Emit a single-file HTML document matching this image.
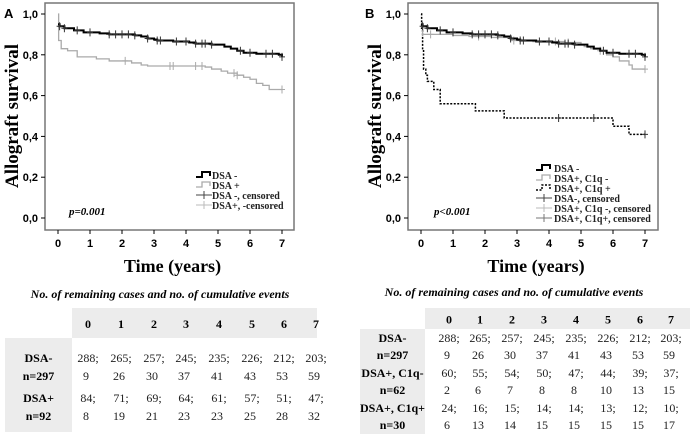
<!DOCTYPE html>
<html><head><meta charset="utf-8"><style>
body{margin:0;background:#fff;width:690px;height:434px;overflow:hidden;font-family:"Liberation Serif",serif}
svg{position:absolute;left:0;top:0}
</style></head><body>
<svg id="s" width="690" height="434"></svg>
<script>
const tA_neg=[0,0.05,0.2,0.5,0.8,1.3,1.6,2.4,2.6,2.8,3.0,3.1,3.6,4.1,4.3,4.8,5.2,5.4,5.6,5.8,6.2,6.9,7.0];
const sA_neg=[0.95,0.94,0.93,0.92,0.91,0.905,0.90,0.895,0.89,0.88,0.875,0.87,0.865,0.86,0.855,0.85,0.84,0.83,0.82,0.81,0.805,0.80,0.79];
const cA_neg=[0.05,0.2,0.6,1.0,1.6,1.8,2.0,2.2,2.4,2.8,3.1,3.2,3.7,4.0,4.3,4.5,4.6,4.8,5.7,6.0,6.5,6.7,7.0];
const tA_pos=[0,0.02,0.1,0.3,0.6,1.2,1.6,2.3,2.6,2.8,4.6,4.8,5.1,5.3,5.6,5.8,6.0,6.2,6.4,6.6,7.0];
const sA_pos=[1.0,0.87,0.83,0.82,0.79,0.78,0.77,0.76,0.75,0.745,0.74,0.73,0.72,0.71,0.70,0.69,0.68,0.66,0.65,0.63,0.63];
const cA_pos=[2.1,3.5,3.6,4.3,4.5,5.5,5.6,7.0];
const tB_pos1=[0,0.05,1.0,1.5,2.2,2.8,3.5,4.5,5.0,5.1,5.3,5.6,5.8,6.0,6.2,6.5,6.6,7.0];
const sB_pos1=[0.95,0.90,0.895,0.89,0.885,0.87,0.865,0.86,0.85,0.84,0.83,0.82,0.80,0.79,0.77,0.75,0.73,0.73];
const cB_pos1=[0.3,1.8,2.9,4.2,4.6,5.6,7.0];
const tB_pos2=[0,0.02,0.05,0.08,0.15,0.2,0.4,0.6,1.7,2.6,6.0,6.5,7.0];
const sB_pos2=[1.0,0.93,0.83,0.73,0.70,0.67,0.63,0.56,0.525,0.49,0.45,0.41,0.41];
const cB_pos2=[4.3,5.4,7.0];
const yTicks=["0,0","0,2","0,4","0,6","0,8","1,0"];
const xTicks=["0","1","2","3","4","5","6","7"];
const years=["0","1","2","3","4","5","6","7"];
const rowsA=[["DSA-","n=297",["288;","265;","257;","245;","235;","226;","212;","203;"],["9","26","30","37","41","43","53","59"]],
["DSA+","n=92",["84;","71;","69;","64;","61;","57;","51;","47;"],["8","19","21","23","23","25","28","32"]]];
const rowsB=[["DSA-","n=297",["288;","265;","257;","245;","235;","226;","212;","203;"],["9","26","30","37","41","43","53","59"]],
["DSA+, C1q-","n=62",["60;","55;","54;","50;","47;","44;","39;","37;"],["2","6","7","8","8","10","13","15"]],
["DSA+, C1q+","n=30",["24;","16;","15;","14;","14;","13;","12;","10;"],["6","13","14","15","15","15","15","17"]]];
const S=document.getElementById('s');const NS="http://www.w3.org/2000/svg";
function el(t,a,txt){const e=document.createElementNS(NS,t);for(const k in a)e.setAttribute(k,a[k]);if(txt!==undefined)e.textContent=txt;S.appendChild(e);return e;}
function panel(x0,box,label,series,legend,pt,lx,ltx,ly0,name){
  const X=v=>x0+v*32, Y=v=>218-v*204;
  let r=el('rect',{x:box[0],y:3,width:box[1]-box[0],height:227,fill:'none',stroke:'#777','stroke-width':1.5});
  
  yTicks.forEach((t,i)=>{const v=i*0.2;
    let l=el('line',{x1:box[0]-4,x2:box[0],y1:Y(v),y2:Y(v),stroke:'#000'});
    let tx=el('text',{x:box[0]-7,y:Y(v)+4,'text-anchor':'end','font-family':'Liberation Sans,sans-serif','font-weight':'bold','font-size':11},t);});
  xTicks.forEach((t,i)=>{
    let l=el('line',{x1:X(i),x2:X(i),y1:230,y2:234,stroke:'#000'});
    let tx=el('text',{x:X(i),y:247,'text-anchor':'middle','font-family':'Liberation Sans,sans-serif','font-weight':'bold','font-size':11},t);});
  series.forEach(s=>{let d='M'+X(s.t[0])+','+Y(s.s[0]);
    for(let i=1;i<s.t.length;i++){d+=' H'+X(s.t[i])+' V'+Y(s.s[i]);}
    let p=el('path',{d:d,fill:'none',stroke:s.c,'stroke-width':s.w,'stroke-dasharray':s.dash||'none'});
    s.cens.forEach(c=>{let k=0;for(let i=0;i<s.t.length;i++)if(s.t[i]<=c)k=i;const yy=Y(s.s[k]);
      let m=el('path',{d:`M${X(c)},${yy-4}V${yy+4}M${X(c)-3},${yy}H${X(c)+3}`,stroke:s.c==='#000'?'#333':s.c,'stroke-width':1});});
  });
  legend.forEach((g,i)=>{const y=ly0+i*10;
    let ln=el('path',{d:g.cens?`M${lx+8},${y-5}V${y+3}M${lx},${y-1}H${lx+16}`:`M${lx},${y+1}H${lx+6}V${y-4}H${lx+14}V${y}`,fill:'none',stroke:g.c,'stroke-width':g.cens?1:g.w,'stroke-dasharray':g.dash||'none'});
    let t=el('text',{x:ltx,y:y+3,'font-size':10,'font-weight':'bold',fill:'#222'},g.l);});
  let p=el('text',{x:pt[0],y:pt[1],'font-size':11,'font-weight':'bold','font-style':'italic'},pt[2]);
  let yl=el('text',{transform:`translate(${box[0]-27},116) rotate(-90)`,'text-anchor':'middle','font-size':19,'font-weight':'bold'},'Allograft survival');
  let xl=el('text',{x:(box[0]+box[1])/2+3,y:272,'text-anchor':'middle','font-size':18,'font-weight':'bold'},'Time (years)');
  let pl=el('text',{x:label[0],y:18,'font-family':'Liberation Sans,sans-serif','font-size':13,'font-weight':'bold'},label[1]);
}
panel(58,[45,294],[4,'A'],[
 {t:tA_pos,s:sA_pos,cens:cA_pos,c:'#aaa',w:1.3,n:'dsa-pos'},
 {t:tA_neg,s:sA_neg,cens:cA_neg,c:'#000',w:2,n:'dsa-neg'}],
 [{l:'DSA -',c:'#000',w:2},{l:'DSA +',c:'#aaa',w:1.3},{l:'DSA -, censored',c:'#444',cens:1},{l:'DSA+, -censored',c:'#bbb',cens:1}],
 [69,215,'p=0.001'],196,212,176,'panel-a');
panel(421,[408,658],[365,'B'],[
 {t:tB_pos2,s:sB_pos2,cens:cB_pos2,c:'#000',w:1.5,dash:'2,1.5',n:'dsa-pos-c1q-pos'},
 {t:tB_pos1,s:sB_pos1,cens:cB_pos1,c:'#aaa',w:1.3,n:'dsa-pos-c1q-neg'},
 {t:tA_neg,s:sA_neg,cens:cA_neg,c:'#000',w:2,n:'dsa-neg'}],
 [{l:'DSA -',c:'#000',w:2},{l:'DSA+, C1q -',c:'#aaa',w:1.3},{l:'DSA+, C1q +',c:'#000',w:1.5,dash:'2,1.5'},{l:'DSA-, censored',c:'#444',cens:1},{l:'DSA+, C1q -, censored',c:'#bbb',cens:1},{l:'DSA+, C1q+, censored',c:'#777',cens:1}],
 [434,215,'p<0.001'],536,554,169,'panel-b');
function table(cap,capx,capy,hx,hy,hw,hh,lx,lw,cols,rows,rowY,name){
  let c=el('text',{x:capx,y:capy,'text-anchor':'middle','font-size':12,'font-weight':'bold','font-style':'italic'},cap);
  let h=el('rect',{x:hx,y:hy,width:hw,height:hh,fill:'#ececec'});
  let lb=el('rect',{x:lx,y:hy+hh,width:lw,height:rowY[rowY.length-1]-hy-hh+12,fill:'#ececec'});
  years.forEach((y,i)=>{let t=el('text',{x:cols[i],y:hy+hh/2+5,'text-anchor':'middle','font-size':12,'font-weight':'bold'},y);});
  rows.forEach((r,j)=>{const y1=rowY[j*2],y2=rowY[j*2+1];
    let a=el('text',{x:lx+lw/2,y:y1,'text-anchor':'middle','font-size':12,'font-weight':'bold'},r[0]);
    let b=el('text',{x:lx+lw/2,y:y2,'text-anchor':'middle','font-size':12,'font-weight':'bold'},r[1]);
    r[2].forEach((v,i)=>{let t=el('text',{x:cols[i],y:y1,'text-anchor':'middle','font-size':12,fill:'#222'},v);});
    r[3].forEach((v,i)=>{let t=el('text',{x:cols[i]-2,y:y2,'text-anchor':'middle','font-size':12,fill:'#222'},v);});
  });
}
table('No. of remaining cases and no. of cumulative events',160,298,72,308,245,30,5,67,[88,121,154,186,219,252,284,316],rowsA,[362,380,402,420],'table-a');
table('No. of remaining cases and no. of cumulative events',514,296,425,308,265,21,360,65,[449,480,512,544,576,608,640,671],rowsB,[342,359,377,394,412,429],'table-b');
</script>
</body></html>
